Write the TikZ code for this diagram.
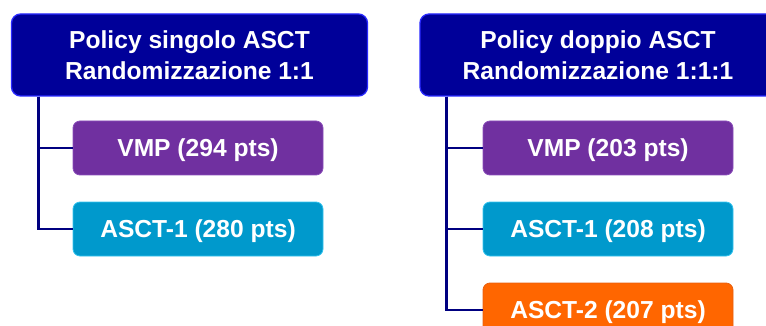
\documentclass[tikz,border=0pt]{standalone}
\usepackage{fontspec}
\setmainfont{Liberation Sans}
\definecolor{hdrfill}{HTML}{000099}
\definecolor{hdrline}{HTML}{2A2AFF}
\definecolor{conncol}{HTML}{000080}
\definecolor{vmpfill}{HTML}{7030A0}
\definecolor{vmpline}{HTML}{8A4FBA}
\definecolor{ascafill}{HTML}{0099CC}
\definecolor{ascaline}{HTML}{33C4EE}
\definecolor{ascbfill}{HTML}{FF6600}
\definecolor{ascbline}{HTML}{E86010}
\tikzset{
  hdr/.style={draw=hdrline, line width=1.3pt, fill=hdrfill, rounded corners=9pt,
    minimum width=356pt, minimum height=82pt, inner sep=0pt, align=center,
    text=white, font=\fontsize{24.6}{31}\selectfont\bfseries},
  leaf/.style={rounded corners=7pt, line width=0.8pt, minimum width=250pt,
    minimum height=54pt, inner sep=0pt, text=white, text height=17.6pt,
    text depth=0pt, font=\fontsize{24.6}{29}\selectfont\bfseries},
  vmpbox/.style={leaf, draw=vmpline, fill=vmpfill},
  ascabox/.style={leaf, draw=ascaline, fill=ascafill},
  ascbbox/.style={leaf, draw=ascbline, fill=ascbfill},
  conn/.style={draw=conncol, line width=2.3pt}
}
\begin{document}
\begin{tikzpicture}[x=1pt,y=-1pt]
\useasboundingbox (0,0) rectangle (766,326);
\clip (0,0) rectangle (766,326);
% left group
\node[hdr] (hdrL) at (189.5,55) {Policy singolo ASCT\\Randomizzazione 1:1};
\node[vmpbox] (vmpL) at (198,148) {VMP (294 pts)};
\node[ascabox] (ascaL) at (198,229) {ASCT-1 (280 pts)};
\coordinate (stemL) at ([xshift=27.5pt]hdrL.south west);
\draw[conn] (stemL) |- (vmpL.west);
\draw[conn] (stemL) |- (ascaL.west);
% right group
\node[hdr] (hdrR) at (598,55) {Policy doppio ASCT\\Randomizzazione 1:1:1};
\node[vmpbox] (vmpR) at (608,148) {VMP (203 pts)};
\node[ascabox] (ascaR) at (608,229) {ASCT-1 (208 pts)};
\node[ascbbox] (ascbR) at (608,310) {ASCT-2 (207 pts)};
\coordinate (stemR) at ([xshift=27pt]hdrR.south west);
\draw[conn] (stemR) |- (vmpR.west);
\draw[conn] (stemR) |- (ascaR.west);
\draw[conn] (stemR) |- (ascbR.west);
\end{tikzpicture}
\end{document}
